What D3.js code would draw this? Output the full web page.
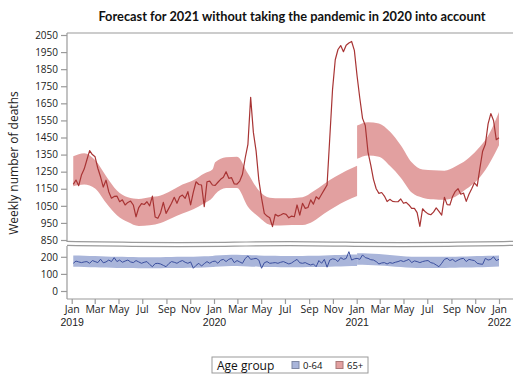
<!DOCTYPE html>
<html>
<head>
<meta charset="utf-8">
<script src="https://cdn.jsdelivr.net/npm/d3@7"></script>
<style>
  body { margin: 0; background: #fff; }
  svg { display: block; font-family: "Open Sans", sans-serif; }
</style>
</head>
<body>
<svg id="chart" width="513" height="374"></svg>
<script>
// weekly deaths, first week ending 2019-01-05
const firstWeek = new Date(2019, 0, 5);

const deaths65 = [
  1176, 1201, 1168, 1230, 1265, 1320, 1373, 1350, 1337, 1270,
  1220, 1160, 1200, 1133, 1095, 1105, 1107, 1074, 1085, 1055,
  1070, 1078, 1055, 986, 1040, 1063, 1058, 1074, 1050, 1107,
  985, 977, 1010, 1070, 1006, 1035, 1065, 1100, 1065, 1103,
  1113, 1094, 1133, 1055, 1130, 1191, 1175, 1172, 1045, 1191,
  1195, 1172, 1170, 1188, 1205, 1217, 1250, 1211, 1215, 1178,
  1177, 1195, 1235, 1330, 1410, 1685, 1480, 1370, 1200, 1095,
  1006, 990, 980, 928, 1000, 990, 996, 1005, 1000, 980,
  990, 986, 1055, 996, 1065, 1035, 1040, 1085, 1060, 1103,
  1090, 1118, 1145, 1172, 1450, 1730, 1905, 1965, 1988, 1952,
  1990, 2003, 2012, 1960, 1810, 1680, 1562, 1520, 1365, 1290,
  1205, 1150, 1123, 1128, 1107, 1075, 1088, 1076, 1074, 1074,
  1090, 1065, 1070, 1055, 1035, 1035, 1010, 930, 1033, 1015,
  1003, 998, 1013, 1038, 1018, 996, 1100, 1057, 1055, 1105,
  1135, 1150, 1118, 1125, 1076, 1118, 1150, 1185, 1165, 1270,
  1370, 1410, 1530, 1590, 1550, 1437, 1448
];

const deaths064 = [
  162, 175, 170, 166, 170, 172, 162, 178, 172, 166,
  186, 165, 170, 181, 172, 195, 172, 181, 168, 175,
  181, 170, 166, 178, 170, 162, 168, 172, 155, 142,
  160, 162, 158, 150, 142, 160, 172, 168, 162, 172,
  178, 168, 162, 170, 133, 150, 162, 146, 160, 172,
  162, 172, 175, 162, 180, 185, 172, 185, 191, 166,
  178, 170, 162, 190, 205, 185, 188, 191, 181, 133,
  165, 172, 162, 164, 166, 162, 168, 172, 165, 158,
  164, 175, 185, 165, 162, 166, 158, 152, 158, 142,
  178, 162, 185, 139, 181, 188, 185, 172, 195, 185,
  190, 230, 181, 188, 191, 185, 211, 195, 191, 183,
  181, 172, 158, 164, 166, 158, 166, 162, 168, 172,
  178, 172, 178, 185, 166, 176, 172, 166, 172, 176,
  178, 166, 162, 152, 142, 162, 185, 191, 178, 185,
  172, 181, 188, 191, 172, 185, 181, 178, 162, 158,
  156, 191, 181, 185, 200, 178, 185
];

// expected range (forecast band), two pieces: 2019-2020 and 2021
const bandWeeksA = [0, 4, 8, 12, 16, 20, 24, 28, 32, 36, 40, 44, 48, 51, 52,
  56, 60, 64, 68, 72, 76, 80, 84, 88, 92, 96, 100, 104];
const bandWeeksB = [104, 108, 112, 116, 120, 124, 128, 132, 136, 140, 144, 148, 152, 156];

const band65HiA = [1340, 1358, 1318, 1225, 1140, 1100, 1090, 1100, 1110, 1140, 1175, 1200, 1240, 1262, 1305,
  1335, 1338, 1240, 1140, 1098, 1094, 1095, 1100, 1135, 1180, 1220, 1255, 1285];
const band65LoA = [1165, 1175, 1152, 1068, 995, 955, 932, 936, 950, 978, 1005, 1030, 1065, 1098, 1118,
  1155, 1155, 1045, 985, 940, 935, 938, 938, 960, 1005, 1045, 1080, 1108];
const band65HiB = [1520, 1540, 1532, 1485, 1405, 1305, 1262, 1258, 1255, 1280, 1318, 1378, 1460, 1600];
const band65LoB = [1325, 1345, 1338, 1285, 1215, 1128, 1098, 1088, 1085, 1103, 1148, 1200, 1285, 1405];

const band064HiA = [207, 206, 204, 202, 200, 199, 198, 198, 198, 199, 200, 201, 203, 205, 208,
  211, 212, 210, 208, 206, 205, 205, 205, 206, 208, 210, 212, 213];
const band064LoA = [142, 141, 139, 137, 135, 134, 133, 133, 133, 134, 135, 136, 138, 140, 142,
  145, 146, 144, 142, 140, 139, 139, 139, 140, 141, 143, 145, 146];
const band064HiB = [221, 220, 216, 211, 205, 201, 200, 200, 200, 201, 202, 204, 206, 208];
const band064LoB = [153, 152, 149, 145, 140, 136, 135, 135, 135, 136, 137, 139, 141, 143];

const yTicksTop = d3.range(850, 2051, 100);
const yTicksBottom = [0, 100, 200];
const groups = ["0-64", "65+"];

const colors = {
  "0-64": { band: "#a9b5da", line: "#3b4f9e" },
  "65+": { band: "#e2a0a0", line: "#a83434" }
};
const axisColor = "#9a9a9a";

const svg = d3.select("#chart");

const weekDate = i => d3.timeDay.offset(firstWeek, 7 * i);

const x = d3.scaleTime()
  .domain([new Date(2019, 0, 1), new Date(2022, 0, 1)])
  .range([71.7, 499]);
const yTop = d3.scaleLinear().domain([850, 2050]).range([240, 35]);
const yBot = d3.scaleLinear().domain([0, 200]).range([291, 256.8]);

const plotLeft = 67, plotRight = 513;

// title
svg.append("text")
  .attr("x", 292).attr("y", 21)
  .attr("text-anchor", "middle")
  .attr("font-family", "Lato, sans-serif")
  .attr("font-weight", "bold")
  .attr("font-size", 12.8)
  .attr("fill", "#111")
  .text("Forecast for 2021 without taking the pandemic in 2020 into account");

// y label
svg.append("text")
  .attr("transform", "translate(18,163) rotate(-90)")
  .attr("text-anchor", "middle")
  .attr("font-size", 12)
  .attr("fill", "#222")
  .text("Weekly number of deaths");

function drawBand(g, weeks, hi, lo, y, color) {
  const pts = weeks.map((w, i) => ({ d: weekDate(w), hi: hi[i], lo: lo[i] }));
  g.append("path")
    .datum(pts)
    .attr("fill", color)
    .attr("stroke", "none")
    .attr("d", d3.area()
      .curve(d3.curveMonotoneX)
      .x(d => x(d.d))
      .y0(d => y(d.lo))
      .y1(d => y(d.hi)));
}

function drawLine(g, values, y, color, w) {
  g.append("path")
    .datum(values)
    .attr("fill", "none")
    .attr("stroke", color)
    .attr("stroke-width", w)
    .attr("stroke-linejoin", "round")
    .attr("d", d3.line()
      .x((d, i) => x(weekDate(i)))
      .y(d => y(d)));
}

const marks = svg.append("g");
drawBand(marks, bandWeeksA, band65HiA, band65LoA, yTop, colors["65+"].band);
drawBand(marks, bandWeeksB, band65HiB, band65LoB, yTop, colors["65+"].band);
drawLine(marks, deaths65, yTop, colors["65+"].line, 1.2);

drawBand(marks, bandWeeksA, band064HiA, band064LoA, yBot, colors["0-64"].band);
drawBand(marks, bandWeeksB, band064HiB, band064LoB, yBot, colors["0-64"].band);
drawLine(marks, deaths064, yBot, colors["0-64"].line, 1);

// frame lines
const frame = svg.append("g").attr("stroke", axisColor).attr("fill", "none").attr("stroke-width", 1.2);
frame.append("line").attr("x1", plotLeft).attr("x2", plotRight).attr("y1", 33).attr("y2", 33);
frame.append("line").attr("x1", plotLeft).attr("x2", plotLeft).attr("y1", 33).attr("y2", 242);
frame.append("line").attr("x1", plotLeft).attr("x2", plotLeft).attr("y1", 246).attr("y2", 299);

// wavy break between the two panels
const wave = d3.line().curve(d3.curveBasis);
[242, 246].forEach(base => {
  const pts = d3.range(0, 9).map(k => [plotLeft + k * (plotRight - plotLeft) / 8,
    base + (k % 4 === 0 ? -0.6 : k % 4 === 2 ? 0.9 : 0.2)]);
  frame.append("path").attr("d", wave(pts));
});

// y axes
function styleAxis(g) {
  g.select(".domain").remove();
  g.selectAll(".tick line").attr("stroke", axisColor).attr("stroke-width", 1.2);
  g.selectAll(".tick text").attr("fill", "#222").attr("font-family", "Open Sans, sans-serif").attr("font-size", 10);
}
svg.append("g")
  .attr("transform", `translate(${plotLeft},0)`)
  .call(d3.axisLeft(yTop).tickValues(yTicksTop).tickFormat(d3.format("d")).tickSize(6).tickPadding(3))
  .call(styleAxis);
svg.append("g")
  .attr("transform", `translate(${plotLeft},0)`)
  .call(d3.axisLeft(yBot).tickValues(yTicksBottom).tickFormat(d3.format("d")).tickSize(6).tickPadding(3))
  .call(styleAxis);

// x axis
const xAxisY = 299;
const xg = svg.append("g")
  .attr("transform", `translate(0,${xAxisY})`)
  .call(d3.axisBottom(x)
    .ticks(d3.timeMonth.every(2))
    .tickFormat(d3.timeFormat("%b"))
    .tickSize(5).tickPadding(2))
  .call(styleAxis);
xg.selectAll(".tick text").attr("font-size", 10.5);
xg.append("line").attr("x1", plotLeft).attr("x2", plotRight)
  .attr("stroke", axisColor).attr("stroke-width", 1.2);
xg.selectAll(".tick")
  .filter(d => d.getMonth() === 0)
  .append("text")
  .attr("y", 27)
  .attr("text-anchor", "middle")
  .attr("fill", "#222")
  .attr("font-size", 10.5)
  .text(d => d.getFullYear());

// legend
const lg = svg.append("g").attr("transform", "translate(212,357)");
lg.append("rect").attr("width", 156).attr("height", 16)
  .attr("fill", "#fff").attr("stroke", axisColor);
lg.append("text").attr("x", 5).attr("y", 12.5)
  .attr("font-size", 12).attr("fill", "#111").text("Age group");
const itemX = [80, 124];
groups.forEach((grp, i) => {
  lg.append("rect").attr("x", itemX[i]).attr("y", 4.5).attr("width", 7).attr("height", 7)
    .attr("fill", colors[grp].band).attr("stroke", d3.color(colors[grp].band).darker(0.8));
  lg.append("text").attr("x", itemX[i] + 11).attr("y", 12)
    .attr("font-size", 9.5).attr("fill", "#111").text(grp);
});
</script>
</body>
</html>
